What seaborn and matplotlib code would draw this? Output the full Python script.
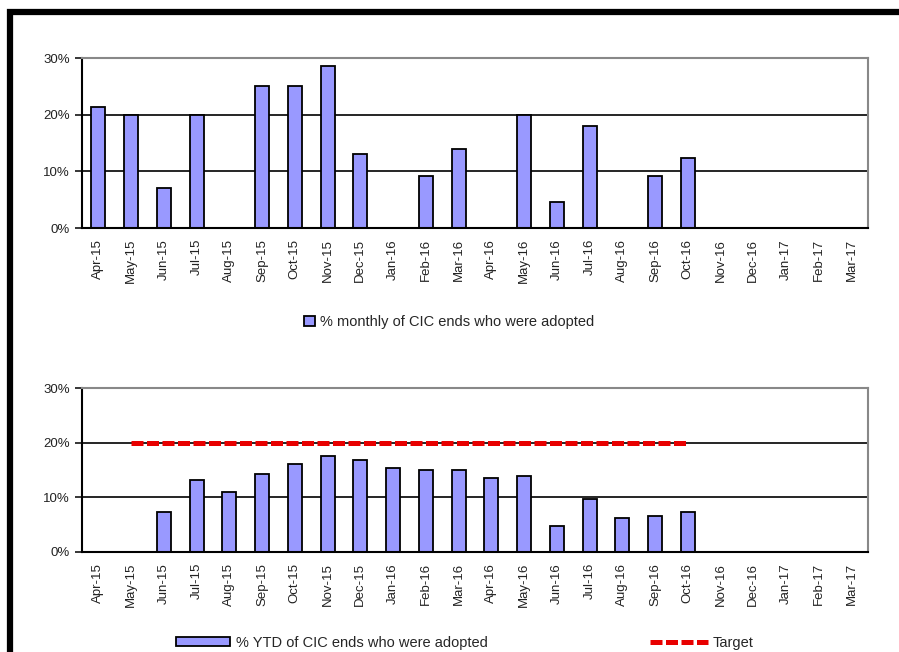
import numpy as np
import pandas as pd
import seaborn as sns
import matplotlib.pyplot as plt
from matplotlib.patches import Patch, Rectangle
from matplotlib.lines import Line2D
from matplotlib.ticker import FuncFormatter

months = ['Apr-15', 'May-15', 'Jun-15', 'Jul-15', 'Aug-15', 'Sep-15', 'Oct-15', 'Nov-15',
          'Dec-15', 'Jan-16', 'Feb-16', 'Mar-16', 'Apr-16', 'May-16', 'Jun-16', 'Jul-16',
          'Aug-16', 'Sep-16', 'Oct-16', 'Nov-16', 'Dec-16', 'Jan-17', 'Feb-17', 'Mar-17']

monthly_pct = [21.4, 20.0, 7.1, 20.0, 0.0, 25.0, 25.0, 28.6, 13.0, 0.0, 9.1, 14.0,
               0.0, 20.0, 4.6, 18.0, 0.0, 9.1, 12.4,
               np.nan, np.nan, np.nan, np.nan, np.nan]

ytd_pct = [0.0, 0.0, 7.3, 13.2, 11.0, 14.3, 16.1, 17.6, 16.8, 15.4, 15.0, 15.0,
           13.5, 13.9, 4.8, 9.7, 6.2, 6.6, 7.3,
           np.nan, np.nan, np.nan, np.nan, np.nan]

target_pct = [np.nan] + [20.0] * 18 + [np.nan] * 5

sns.set_style('white')
plt.rcParams['font.family'] = ['Liberation Sans', 'DejaVu Sans']

bar_col = '#9999ff'
red = '#e80000'
fig = plt.figure(figsize=(8.99, 6.52), dpi=100)

# outer frame
fig.patches.append(Rectangle((10 / 899, -0.05), 1.0, 1 - 12 / 652 + 0.05,
                             transform=fig.transFigure, fill=False,
                             edgecolor='black', linewidth=4.5))

ax1 = fig.add_axes([0.0912, 0.6503, 0.8743, 0.2607])
ax2 = fig.add_axes([0.0912, 0.1534, 0.8743, 0.2515])

df1 = pd.DataFrame({'month': months, 'val': monthly_pct})
df2 = pd.DataFrame({'month': months, 'val': ytd_pct})

sns.barplot(data=df1, x='month', y='val', order=months, ax=ax1, color=bar_col,
            saturation=1, edgecolor='black', linewidth=1.3, width=0.43, errorbar=None)
sns.barplot(data=df2, x='month', y='val', order=months, ax=ax2, color=bar_col,
            saturation=1, edgecolor='black', linewidth=1.3, width=0.43, errorbar=None)
sns.lineplot(x=np.arange(len(months)), y=target_pct, ax=ax2, color=red,
             linewidth=3.6, dashes=False, zorder=5)
ax2.lines[-1].set_dashes((2.4, 0.7))

for ax in (ax1, ax2):
    ax.set_xlim(-0.5, len(months) - 0.5)
    ax.set_ylim(0, 30)
    ax.set_yticks([0, 10, 20, 30])
    ax.yaxis.set_major_formatter(FuncFormatter(lambda v, p: f'{v:.0f}%'))
    for y in (10, 20):
        ax.axhline(y, color='black', linewidth=1.2, zorder=0)
    ax.set_xticks(np.arange(len(months)))
    ax.set_xticklabels(months, rotation=90, fontsize=9.5, color='#222222')
    ax.set_xticks(np.arange(len(months) + 1) - 0.5, minor=True)
    ax.tick_params(axis='x', which='major', length=0, pad=8)
    ax.tick_params(axis='x', which='minor', length=5, width=1.3, direction='out', color='black')
    ax.tick_params(axis='y', length=5, width=1.3, direction='out', labelsize=9.5,
                   labelcolor='#222222', left=True)
    ax.set_xlabel('')
    ax.set_ylabel('')
    for s in ('left', 'bottom'):
        ax.spines[s].set_color('black')
        ax.spines[s].set_linewidth(1.5)
    for s in ('top', 'right'):
        ax.spines[s].set_color('#888888')
        ax.spines[s].set_linewidth(1.5)

fig.legend(handles=[Patch(facecolor=bar_col, edgecolor='black', linewidth=1.3,
                          label='% monthly of CIC ends who were adopted')],
           loc='center', bbox_to_anchor=(0.50, 1 - 322 / 652), frameon=False,
           fontsize=10.5, handlelength=0.7, handleheight=0.7, handletextpad=0.4)

fig.legend(handles=[Patch(facecolor=bar_col, edgecolor='black', linewidth=1.3,
                          label='% YTD of CIC ends who were adopted')],
           loc='center left', bbox_to_anchor=(163 / 899, 1 - 643 / 652), frameon=False,
           fontsize=10.5, handlelength=3.7, handleheight=0.6, handletextpad=0.4)

fig.legend(handles=[Line2D([], [], color=red, linewidth=3.6, dashes=(2.4, 0.7),
                           label='Target')],
           loc='center left', bbox_to_anchor=(637 / 899, 1 - 643 / 652), frameon=False,
           fontsize=10.5, handlelength=4.0, handletextpad=0.3)

fig.savefig('out.png', dpi=100)
